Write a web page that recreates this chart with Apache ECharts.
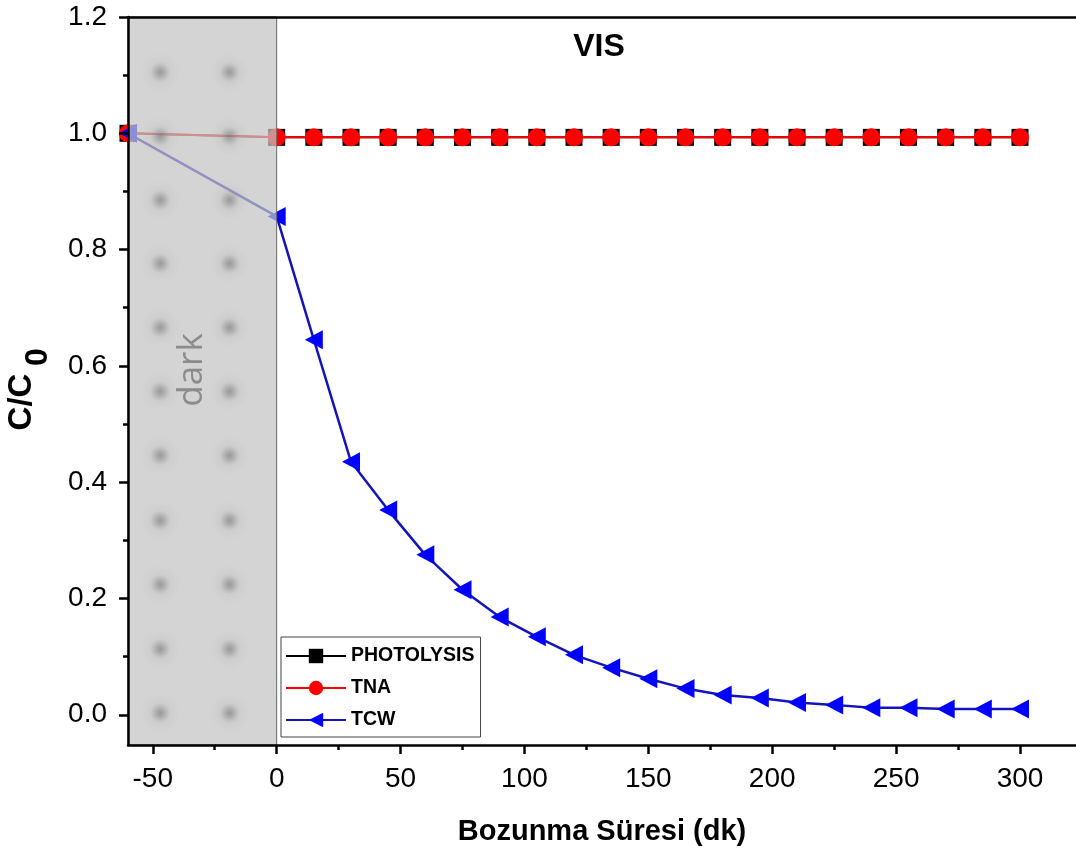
<!DOCTYPE html>
<html>
<head>
<meta charset="utf-8">
<script src="https://cdn.jsdelivr.net/npm/echarts@6/dist/echarts.min.js"></script>
<style>html,body{margin:0;padding:0;background:#fff}#c{width:1076px;height:858px}</style>
</head>
<body>
<div id="c"></div>
<script>
// ---- data ----
var times = [-60, 0, 15, 30, 45, 60, 75, 90, 105, 120, 135, 150, 165, 180, 195, 210, 225, 240, 255, 270, 285, 300];
var photolysis = [1.0, 0.993, 0.993, 0.993, 0.993, 0.993, 0.993, 0.993, 0.993, 0.993, 0.993, 0.993, 0.993, 0.993, 0.993, 0.993, 0.993, 0.993, 0.993, 0.993, 0.993, 0.993];
var tna = [1.0, 0.993, 0.993, 0.993, 0.993, 0.993, 0.993, 0.993, 0.993, 0.993, 0.993, 0.993, 0.993, 0.993, 0.993, 0.993, 0.993, 0.993, 0.993, 0.993, 0.993, 0.993];
var tcw = [1.0, 0.857, 0.645, 0.435, 0.352, 0.275, 0.215, 0.168, 0.134, 0.103, 0.081, 0.062, 0.045, 0.034, 0.029, 0.021, 0.017, 0.012, 0.012, 0.010, 0.010, 0.010];
var xMajorTicks = [-50, 0, 50, 100, 150, 200, 250, 300];
var xMinorTicks = [-25, 25, 75, 125, 175, 225, 275];
var yMajorTicks = [0, 0.2, 0.4, 0.6, 0.8, 1.0, 1.2];
var yMinorTicks = [0.1, 0.3, 0.5, 0.7, 0.9, 1.1];
var xRange = [-60, 322.6];
var yRange = [-0.052, 1.2];
var darkRange = [-60, 0];
var darkDotX = [-47, -19];
var darkDotY = [1.105, 0.995, 0.885, 0.776, 0.666, 0.556, 0.446, 0.334, 0.224, 0.113, 0.003];
var seriesNames = ['PHOTOLYSIS', 'TNA', 'TCW'];

function pairs(xs, ys) { return xs.map(function (x, i) { return [x, ys[i]]; }); }
var dots = [];
darkDotX.forEach(function (x) { darkDotY.forEach(function (y) { dots.push([x, y]); }); });

var FONT = 'Liberation Sans, Arial, sans-serif';
var AX = { color: '#000', width: 2.5 };
var chart = echarts.init(document.getElementById('c'));
chart.setOption({
  animation: false,
  backgroundColor: '#fff',
  grid: { left: 128, right: 0, top: 17, bottom: 113 },
  xAxis: [
    {
      type: 'value', position: 'bottom', min: xRange[0], max: xRange[1], z: 10,
      axisLine: { show: true, onZero: false, lineStyle: AX },
      axisTick: { show: true, inside: false, length: 9, customValues: xMajorTicks, lineStyle: AX },
      axisLabel: { customValues: xMajorTicks, margin: 20, fontSize: 28, color: '#000', fontFamily: FONT },
      splitLine: { show: false },
      name: 'Bozunma Süresi (dk)', nameLocation: 'middle', nameGap: 72,
      nameTextStyle: { fontSize: 29, fontWeight: 'bold', color: '#000', fontFamily: FONT }
    },
    {
      type: 'value', position: 'bottom', min: xRange[0], max: xRange[1], z: 10,
      axisLine: { show: false, onZero: false },
      axisTick: { show: true, length: 5, customValues: xMinorTicks, lineStyle: AX },
      axisLabel: { show: false }, splitLine: { show: false }
    },
    {
      type: 'value', position: 'top', min: xRange[0], max: xRange[1], z: 10,
      axisLine: { show: true, onZero: false, lineStyle: AX },
      axisTick: { show: false }, axisLabel: { show: false }, splitLine: { show: false }
    }
  ],
  yAxis: [
    {
      type: 'value', position: 'left', min: yRange[0], max: yRange[1], z: 10,
      axisLine: { show: true, onZero: false, lineStyle: AX },
      axisTick: { show: true, length: 9, customValues: yMajorTicks, lineStyle: AX },
      axisLabel: { customValues: yMajorTicks, margin: 21, fontSize: 28, color: '#000', fontFamily: FONT,
        formatter: function (v) { return v.toFixed(1); } },
      splitLine: { show: false }
    },
    {
      type: 'value', position: 'left', min: yRange[0], max: yRange[1], z: 10,
      axisLine: { show: false, onZero: false },
      axisTick: { show: true, length: 5, customValues: yMinorTicks, lineStyle: AX },
      axisLabel: { show: false }, splitLine: { show: false }
    }
  ],
  legend: {
    data: seriesNames,
    orient: 'vertical', left: 281, top: 637, z: 20,
    backgroundColor: '#fff', borderColor: '#444', borderWidth: 1,
    padding: [9, 6, 7, 4], itemWidth: 60, itemHeight: 18, itemGap: 12,
    textStyle: { fontSize: 19.5, fontWeight: 'bold', color: '#000', fontFamily: FONT }
  },
  series: [
    {
      name: 'PHOTOLYSIS', type: 'line', data: pairs(times, photolysis), z: 2,
      symbol: 'rect', symbolSize: 17,
      itemStyle: { color: '#000' }, lineStyle: { color: '#000', width: 2 }
    },
    {
      name: 'TNA', type: 'line', data: pairs(times, tna), z: 3,
      symbol: 'circle', symbolSize: 18,
      itemStyle: { color: '#ff0000' }, lineStyle: { color: '#ff0000', width: 2 }
    },
    {
      name: 'TCW', type: 'line', data: pairs(times, tcw), z: 4,
      symbol: 'triangle', symbolSize: [19, 18], symbolRotate: 90,
      itemStyle: { color: '#0000ff' }, lineStyle: { color: '#1414bc', width: 2.5 }
    },
    {
      name: 'darkArea', type: 'custom', z: 6, silent: true,
      data: [[darkRange[0], darkRange[1]]],
      dimensions: ['x0', 'x1'], encode: { x: [0, 1] },
      renderItem: function (params, api) {
        var p0 = api.coord([api.value(0), yRange[1]]);
        var p1 = api.coord([api.value(1), yRange[0]]);
        return {
          type: 'rect',
          shape: { x: p0[0], y: p0[1], width: p1[0] - p0[0], height: p1[1] - p0[1] },
          style: { fill: 'rgba(196,196,196,0.72)', stroke: '#666', lineWidth: 1 }
        };
      }
    },
    {
      name: 'darkDots', type: 'scatter', data: dots, z: 7, silent: true,
      symbol: 'circle', symbolSize: 40,
      itemStyle: {
        color: { type: 'radial', x: 0.5, y: 0.5, r: 0.5, colorStops: [
          { offset: 0, color: 'rgba(105,105,105,0.7)' },
          { offset: 0.25, color: 'rgba(120,120,120,0.45)' },
          { offset: 0.5, color: 'rgba(140,140,140,0.12)' },
          { offset: 1, color: 'rgba(160,160,160,0)' }
        ] }
      }
    }
  ],
  graphic: [
    { type: 'text', x: 599, y: 47, z: 100,
      style: { text: 'VIS', fontSize: 32, fontWeight: 'bold', fill: '#000', fontFamily: FONT, align: 'center', verticalAlign: 'middle' } },
    { type: 'text', x: 192, y: 370, rotation: Math.PI / 2, z: 100,
      style: { text: 'dark', fontSize: 35, fill: '#8c8c8c', fontFamily: 'Open Sans, sans-serif', align: 'center', verticalAlign: 'middle' } },
    { type: 'text', x: 22, y: 402, rotation: Math.PI / 2, z: 100,
      style: { text: 'C/C', fontSize: 33, fontWeight: 'bold', fill: '#000', fontFamily: FONT, align: 'center', verticalAlign: 'middle' } },
    { type: 'text', x: 38, y: 357, rotation: Math.PI / 2, z: 100,
      style: { text: '0', fontSize: 32, fontWeight: 'bold', fill: '#000', fontFamily: FONT, align: 'center', verticalAlign: 'middle' } }
  ]
});
</script>
</body>
</html>
